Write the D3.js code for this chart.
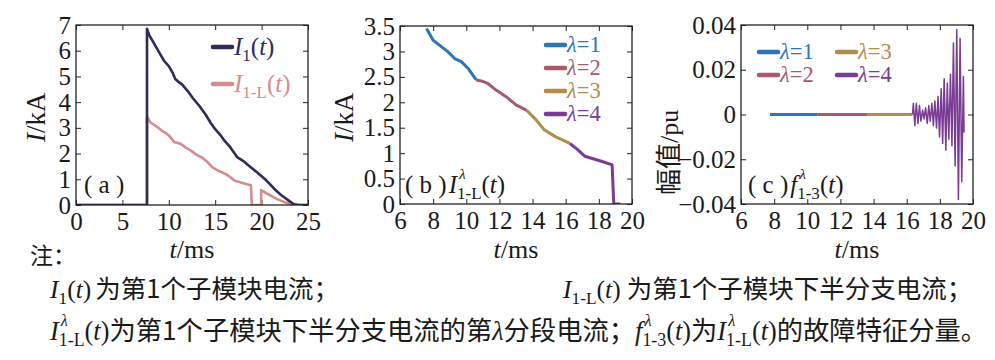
<!DOCTYPE html>
<html lang="zh">
  <head>
    <meta charset="utf-8" />
    <title>子模块电流与故障特征分量</title>
    <script src="https://d3js.org/d3.v7.min.js"></script>
    <style>
      body { margin: 0; background: #fff; }
      svg text { font-family: "Liberation Serif", "DejaVu Serif", serif; fill: #1a1a1a; }
      .cjk { font-family: "Noto Sans CJK SC", sans-serif; }
    </style>
  </head>
  <body>
    <div id="chart"></div>
    <script>
      // ---- data ----
      // (a) I1(t), kA
      const i1Time = [0, 7.65, 7.65, 7.9, 8.3, 8.7, 9.1, 9.5, 10.0, 10.4, 10.7, 11.0, 11.4, 12.0, 12.6, 13.3, 14.0, 14.5, 15.0, 15.5, 16.0, 16.5, 17.0, 17.4, 18.0, 18.5, 19.0, 19.5, 20.0, 20.5, 21.0, 21.5, 22.0, 22.5, 23.0, 23.5, 24.0, 25.0];
      const i1Value = [0, 0, 6.85, 6.6, 6.35, 6.1, 5.85, 5.6, 5.4, 5.15, 4.9, 4.8, 4.7, 4.45, 4.15, 3.85, 3.5, 3.2, 2.95, 2.75, 2.5, 2.3, 2.05, 1.85, 1.72, 1.57, 1.42, 1.27, 1.12, 0.96, 0.77, 0.58, 0.42, 0.28, 0.15, 0.03, 0, 0];
      // (a) I1-L(t), kA
      const i1lTime = [0, 7.65, 7.65, 8.0, 8.4, 8.9, 9.3, 9.7, 10.1, 10.6, 10.9, 11.3, 11.8, 12.4, 13.0, 13.6, 14.2, 14.7, 15.4, 16.2, 16.6, 17.1, 17.6, 18.2, 18.85, 18.95, 19.95, 19.95, 20.5, 21.0, 21.5, 22.0, 22.5, 23.0, 23.5, 24.0, 25.0];
      const i1lValue = [0, 0, 3.45, 3.22, 3.12, 3.0, 2.87, 2.8, 2.67, 2.44, 2.42, 2.37, 2.24, 2.11, 1.95, 1.84, 1.66, 1.46, 1.32, 1.19, 1.09, 0.94, 0.89, 0.83, 0.77, 0, 0, 0.58, 0.46, 0.36, 0.26, 0.18, 0.11, 0.05, 0.01, 0, 0];

      // (b) I1-L^λ(t), kA, one array pair per segment λ
      const lambdaNames = ["λ=1", "λ=2", "λ=3", "λ=4"];
      const segTime = [
        [7.6, 8.0, 8.4, 8.9, 9.3, 9.7, 10.1, 10.6],
        [10.6, 10.9, 11.3, 11.8, 12.4, 13.0, 13.65],
        [13.65, 14.2, 14.7, 15.4, 16.25],
        [16.25, 16.65, 17.15, 17.65, 18.25, 18.8, 18.9, 19.3]
      ];
      const segValue = [
        [3.45, 3.22, 3.12, 2.99, 2.86, 2.8, 2.67, 2.44],
        [2.44, 2.42, 2.37, 2.24, 2.11, 1.95, 1.84],
        [1.84, 1.66, 1.46, 1.32, 1.19],
        [1.19, 1.09, 0.94, 0.89, 0.83, 0.77, 0, 0]
      ];

      // (c) f1-3^λ(t), pu
      const fTime = [
        [7.75, 10.6],
        [10.6, 13.65],
        [13.65, 16.35],
        [16.35, 16.4, 16.49, 16.58, 16.68, 16.77, 16.86, 16.96, 17.05, 17.14, 17.24, 17.33, 17.42, 17.52, 17.61, 17.7, 17.8, 17.89, 17.98, 18.08, 18.17, 18.26, 18.36, 18.45, 18.54, 18.64, 18.73, 18.82, 18.92, 19.02, 19.12, 19.22, 19.32, 19.42, 19.46]
      ];
      const fValue = [
        [0, 0],
        [0, 0],
        [0, 0],
        [0, 0.005, -0.005, 0.005, -0.004, 0.004, -0.003, 0.002, -0.002, 0.003, -0.004, 0.004, -0.003, 0.005, -0.005, 0.006, -0.006, 0.008, -0.01, 0.0115, -0.013, 0.016, -0.016, 0.014, -0.011, 0.018, -0.014, 0.032, -0.023, 0.038, -0.038, 0.034, -0.03, 0.017, -0.008]
      ];

      const ticksA_x = [0, 5, 10, 15, 20, 25];
      const ticksA_y = [0, 1, 2, 3, 4, 5, 6, 7];
      const ticksB_x = [6, 8, 10, 12, 14, 16, 18, 20];
      const ticksB_y = [0, 0.5, 1, 1.5, 2, 2.5, 3, 3.5];
      const ticksC_y = [-0.04, -0.02, 0, 0.02, 0.04];

      const navy = "#2b2c5c";
      const pink = "#d48c8c";
      const segColors = ["#2b76b8", "#a65a6b", "#b38b4d", "#7a3b94"];

      const W = 995, H = 360;
      const svg = d3.select("#chart").append("svg").attr("width", W).attr("height", H);

      // draws text pieces one after another; parts: {t, it, sub, sup, cjk}
      function rich(g, x, y, parts, size, anchor) {
        const grp = g.append("g");
        let cx = 0;
        parts.forEach((p) => {
          if (p.sup) {
            grp.append("text").attr("x", cx + size * 0.08).attr("y", -size * 0.55)
              .style("font-size", size * 0.62 + "px").style("font-style", "italic").text(p.sup);
            return;
          }
          const fs = p.sub ? size * 0.68 : size;
          const t = grp.append("text").attr("x", cx).attr("y", p.sub ? size * 0.22 : 0)
            .style("font-size", fs + "px").text(p.t);
          if (p.it) t.style("font-style", "italic");
          if (p.cjk) t.attr("class", "cjk");
          if (p.fill) t.style("fill", p.fill);
          cx += t.node().getComputedTextLength() + (p.gap || 0);
        });
        const shift = anchor === "middle" ? -cx / 2 : anchor === "end" ? -cx : 0;
        grp.attr("transform", `translate(${x + shift},${y})`);
        return grp;
      }

      function panel(cfg) {
        const x = d3.scaleLinear().domain(cfg.xd).range([cfg.x0, cfg.x1]);
        const y = d3.scaleLinear().domain(cfg.yd).range([cfg.y0, cfg.y1]);
        const g = svg.append("g");
        const fmt = cfg.yfmt || ((d) => d);
        const tk = 5;

        g.append("g").attr("transform", `translate(0,${cfg.y0})`)
          .call(d3.axisBottom(x).tickValues(cfg.xt).tickSizeInner(-tk).tickSizeOuter(0).tickPadding(7).tickFormat((d) => d))
          .call((a) => a.select(".domain").remove())
          .call((a) => a.selectAll("text").style("font-size", "25px").attr("fill", "#1a1a1a"));
        g.append("g").attr("transform", `translate(0,${cfg.y1})`)
          .call(d3.axisTop(x).tickValues(cfg.xt).tickSizeInner(-tk).tickSizeOuter(0).tickFormat(""))
          .call((a) => a.select(".domain").remove());
        g.append("g").attr("transform", `translate(${cfg.x0},0)`)
          .call(d3.axisLeft(y).tickValues(cfg.yt).tickSizeInner(-tk).tickSizeOuter(0).tickPadding(5).tickFormat(fmt))
          .call((a) => a.select(".domain").remove())
          .call((a) => a.selectAll("text").style("font-size", "25px").attr("fill", "#1a1a1a"));
        g.append("g").attr("transform", `translate(${cfg.x1},0)`)
          .call(d3.axisRight(y).tickValues(cfg.yt).tickSizeInner(-tk).tickSizeOuter(0).tickFormat(""))
          .call((a) => a.select(".domain").remove());
        g.selectAll(".tick line").attr("stroke", "#222").attr("stroke-width", 1);

        const clip = "clip" + cfg.id;
        svg.append("clipPath").attr("id", clip).append("rect")
          .attr("x", cfg.x0).attr("y", cfg.y1 - 2).attr("width", cfg.x1 - cfg.x0).attr("height", cfg.y0 - cfg.y1 + 2);
        const plot = g.append("g").attr("clip-path", `url(#${clip})`);

        g.append("rect").attr("x", cfg.x0).attr("y", cfg.y1).attr("width", cfg.x1 - cfg.x0).attr("height", cfg.y0 - cfg.y1)
          .attr("fill", "none").attr("stroke", "#222").attr("stroke-width", 1.3);

        // axis titles
        rich(g, (cfg.x0 + cfg.x1) / 2, 258, [{ t: "t", it: true }, { t: "/ms" }], 26, "middle");
        return { x, y, g, plot };
      }

      function drawLine(p, ts, vs, color, w) {
        const pts = ts.map((t, i) => [t, vs[i]]);
        p.plot.append("path").datum(pts)
          .attr("d", d3.line().x((d) => p.x(d[0])).y((d) => p.y(d[1])))
          .attr("fill", "none").attr("stroke", color).attr("stroke-width", w)
          .attr("stroke-linejoin", "round");
      }

      function legendItem(g, x, y, color, parts, size) {
        g.append("line").attr("x1", x).attr("x2", x + 19).attr("y1", y).attr("y2", y)
          .attr("stroke", color).attr("stroke-width", 4.5).attr("stroke-linecap", "round");
        rich(g, x + 21, y + size * 0.32, parts.map((q) => Object.assign({ fill: color }, q)), size, "start");
      }

      // ---- panel (a) ----
      const pa = panel({ id: "a", xd: [0, 25], yd: [0, 7], x0: 76, x1: 308, y0: 205, y1: 25, xt: ticksA_x, yt: ticksA_y });
      drawLine(pa, i1lTime, i1lValue, pink, 2.6);
      drawLine(pa, i1Time, i1Value, navy, 2.6);
      rich(pa.g, 0, 0, [{ t: "I", it: true }, { t: "/kA" }], 27, "middle").attr("transform", "translate(45,115) rotate(-90) translate(-27,0)");
      legendItem(pa.g, 213, 47, navy, [{ t: "I", it: true }, { t: "1", sub: true }, { t: "(" }, { t: "t", it: true }, { t: ")" }], 25);
      legendItem(pa.g, 213, 84, pink, [{ t: "I", it: true }, { t: "1-L", sub: true }, { t: "(" }, { t: "t", it: true }, { t: ")" }], 25);
      rich(pa.g, 84, 193, [{ t: "( a )" }], 25, "start");

      // ---- panel (b) ----
      const pb = panel({ id: "b", xd: [6, 20], yd: [0, 3.5], x0: 400, x1: 632, y0: 204, y1: 26, xt: ticksB_x, yt: ticksB_y });
      segTime.forEach((ts, i) => drawLine(pb, ts, segValue[i], segColors[i], 3));
      rich(pb.g, 0, 0, [{ t: "I", it: true }, { t: "/kA" }], 27, "middle").attr("transform", "translate(353,115) rotate(-90) translate(-27,0)");
      lambdaNames.forEach((n, i) => {
        legendItem(pb.g, 546, 45 + i * 23, segColors[i], [{ t: "λ", it: true }, { t: n.slice(1) }], 22.5);
      });
      rich(pb.g, 405, 193, [{ t: "( b )", gap: 2 }, { t: "I", it: true }, { sup: "λ" }, { t: "1-L", sub: true }, { t: "(" }, { t: "t", it: true }, { t: ")" }], 25, "start");

      // ---- panel (c) ----
      const pc = panel({ id: "c", xd: [6, 20], yd: [-0.04, 0.04], x0: 741, x1: 973, y0: 204, y1: 25, xt: ticksB_x, yt: ticksC_y,
        yfmt: (d) => (d === 0 ? "0" : d3.format(".2f")(d)) });
      fTime.forEach((ts, i) => drawLine(pc, ts, fValue[i], segColors[i], i < 3 ? 3 : 1.5));
      rich(pc.g, 0, 0, [{ t: "幅值", cjk: true }, { t: " /pu" }], 26, "start").attr("transform", "translate(678,195) rotate(-90)");
      lambdaNames.forEach((n, i) => {
        const col = Math.floor(i / 2), row = i % 2;
        legendItem(pc.g, 759 + col * 78, 52 + row * 23, segColors[i], [{ t: "λ", it: true }, { t: n.slice(1) }], 22.5);
      });
      rich(pc.g, 748, 193, [{ t: "( c )", gap: 2 }, { t: "f", it: true }, { sup: "λ" }, { t: "1-3", sub: true }, { t: "(" }, { t: "t", it: true }, { t: ")" }], 25, "start");

      // ---- notes ----
      const notes = svg.append("g");
      rich(notes, 30, 264, [{ t: "注：", cjk: true }], 23, "start");
      rich(notes, 50, 298, [{ t: "I", it: true }, { t: "1", sub: true }, { t: "(" }, { t: "t", it: true }, { t: ")", gap: 4 }, { t: "为第1个子模块电流；", cjk: true }], 25.5, "start");
      rich(notes, 563, 298, [{ t: "I", it: true }, { t: "1-L", sub: true }, { t: "(" }, { t: "t", it: true }, { t: ")", gap: 6 }, { t: "为第1个子模块下半分支电流；", cjk: true }], 25.5, "start");
      rich(notes, 50, 340, [
        { t: "I", it: true }, { sup: "λ" }, { t: "1-L", sub: true }, { t: "(" }, { t: "t", it: true }, { t: ")" },
        { t: "为第1个子模块下半分支电流的第", cjk: true }, { t: "λ", it: true }, { t: "分段电流；", cjk: true },
        { t: "f", it: true }, { sup: "λ" }, { t: "1-3", sub: true }, { t: "(" }, { t: "t", it: true }, { t: ")" },
        { t: "为", cjk: true }, { t: "I", it: true }, { sup: "λ" }, { t: "1-L", sub: true }, { t: "(" }, { t: "t", it: true }, { t: ")" },
        { t: "的故障特征分量。", cjk: true }
      ], 26.3, "start");
    </script>
  </body>
</html>
